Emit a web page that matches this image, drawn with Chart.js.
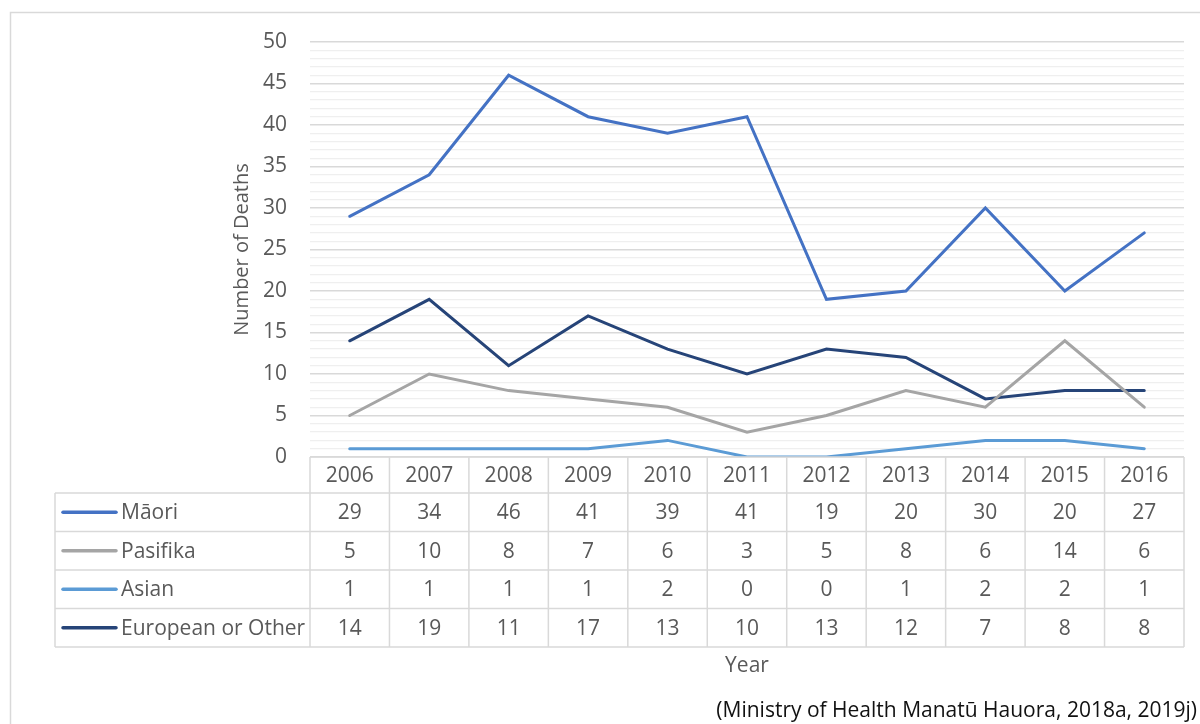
<!DOCTYPE html>
<html>
<head>
<meta charset="utf-8">
<script src="https://cdn.jsdelivr.net/npm/chart.js@4"></script>
<style>
  body { margin: 0; background: #fff; }
</style>
</head>
<body>
<canvas id="lineChart" width="1200" height="724"></canvas>
<script>
var years = ["2006", "2007", "2008", "2009", "2010", "2011", "2012", "2013", "2014", "2015", "2016"];
var maori = [29, 34, 46, 41, 39, 41, 19, 20, 30, 20, 27];
var pasifika = [5, 10, 8, 7, 6, 3, 5, 8, 6, 14, 6];
var asian = [1, 1, 1, 1, 2, 0, 0, 1, 2, 2, 1];
var european = [14, 19, 11, 17, 13, 10, 13, 12, 7, 8, 8];
var seriesNames = ["Māori", "Pasifika", "Asian", "European or Other"];
var seriesColors = ["#4472c4", "#a5a5a5", "#5b9bd5", "#264478"];
var yMin = 0, yMax = 50, yMajor = 5;

var font = "'Open Sans', sans-serif";
var textColor = "#595959";

// frame round the whole chart
var frame = {
  id: "frame",
  beforeDraw: function (chart) {
    var c = chart.ctx;
    c.save();
    c.fillStyle = "#fff";
    c.fillRect(0, 0, chart.width, chart.height);
    c.strokeStyle = "#d9d9d9";
    c.lineWidth = 1.5;
    c.strokeRect(10.5, 12.5, 1300, 900);
    c.restore();
  }
};

// Excel style data table under the plot, with legend keys
var dataTable = {
  id: "dataTable",
  afterDraw: function (chart) {
    var c = chart.ctx, x = chart.scales.x, area = chart.chartArea;
    var top = area.bottom, headH = 36, rowH = 38.5, labelLeft = 55;
    var n = years.length;
    var colW = (area.right - area.left) / n;
    var bottom = top + headH + rowH * seriesNames.length;

    c.save();
    c.strokeStyle = "#d9d9d9";
    c.lineWidth = 1.5;
    c.beginPath();
    c.moveTo(area.left, top);
    c.lineTo(area.right, top);
    for (var r = 0; r <= seriesNames.length; r++) {
      var yy = top + headH + rowH * r;
      c.moveTo(labelLeft, yy);
      c.lineTo(area.right, yy);
    }
    for (var i = 0; i <= n; i++) {
      var xx = area.left + colW * i;
      c.moveTo(xx, top);
      c.lineTo(xx, bottom);
    }
    c.moveTo(labelLeft, top + headH);
    c.lineTo(labelLeft, bottom);
    c.stroke();

    c.fillStyle = textColor;
    c.font = "21px " + font;
    c.textAlign = "center";
    c.textBaseline = "middle";
    years.forEach(function (yr, i) {
      c.fillText(yr, x.getPixelForValue(i), top + headH / 2 + 1);
    });

    chart.data.datasets.forEach(function (ds, r) {
      var cy = top + headH + rowH * r + rowH / 2 + 1;
      c.strokeStyle = ds.borderColor;
      c.lineWidth = 3.5;
      c.lineCap = "round";
      c.beginPath();
      c.moveTo(63, cy - 1);
      c.lineTo(116, cy - 1);
      c.stroke();
      c.textAlign = "left";
      c.fillText(seriesNames[r], 121, cy);
      c.textAlign = "center";
      ds.data.forEach(function (v, i) {
        c.fillText(String(v), x.getPixelForValue(i), cy);
      });
    });

    c.fillText("Year", (area.left + area.right) / 2, 666);

    c.fillStyle = "#111";
    c.textAlign = "right";
    c.fillText("(Ministry of Health Manatū Hauora, 2018a, 2019j)", 1197, 711);
    c.restore();
  }
};

var ctx = document.getElementById("lineChart").getContext("2d");
var lineChart = new Chart(ctx, {
  type: "line",
  data: {
    labels: years,
    datasets: [
      { label: seriesNames[0], data: maori, borderColor: seriesColors[0] },
      { label: seriesNames[1], data: pasifika, borderColor: seriesColors[1] },
      { label: seriesNames[2], data: asian, borderColor: seriesColors[2] },
      { label: seriesNames[3], data: european, borderColor: seriesColors[3] },
    ].map(function (d) {
      d.borderWidth = 3;
      d.pointRadius = 0;
      d.tension = 0;
      d.fill = false;
      d.borderCapStyle = "round";
      return d;
    }),
  },
  options: {
    responsive: false,
    animation: false,
    devicePixelRatio: 1,
    layout: { padding: { left: 230, top: 42, right: 16, bottom: 267 } },
    plugins: { legend: { display: false }, tooltip: { enabled: false } },
    scales: {
      x: { display: false, offset: true },
      y: {
        min: yMin,
        max: yMax,
        border: { display: false },
        grid: {
          drawTicks: false,
          color: function (c) { return c.tick.value % yMajor === 0 ? "#d9d9d9" : "#efefef"; },
          lineWidth: function (c) { return c.tick.value % yMajor === 0 ? 1.5 : 1.3; },
        },
        ticks: {
          stepSize: 1,
          autoSkip: false,
          padding: 23,
          color: textColor,
          font: { family: font, size: 21 },
          callback: function (v) { return v % yMajor === 0 ? v : ""; },
        },
        title: {
          display: true,
          text: "Number of Deaths",
          color: textColor,
          font: { family: font, size: 20 },
          padding: 0,
        },
        afterFit: function (scale) { scale.width = 80; },
      },
    },
  },
  plugins: [frame, dataTable],
});
</script>
</body>
</html>
